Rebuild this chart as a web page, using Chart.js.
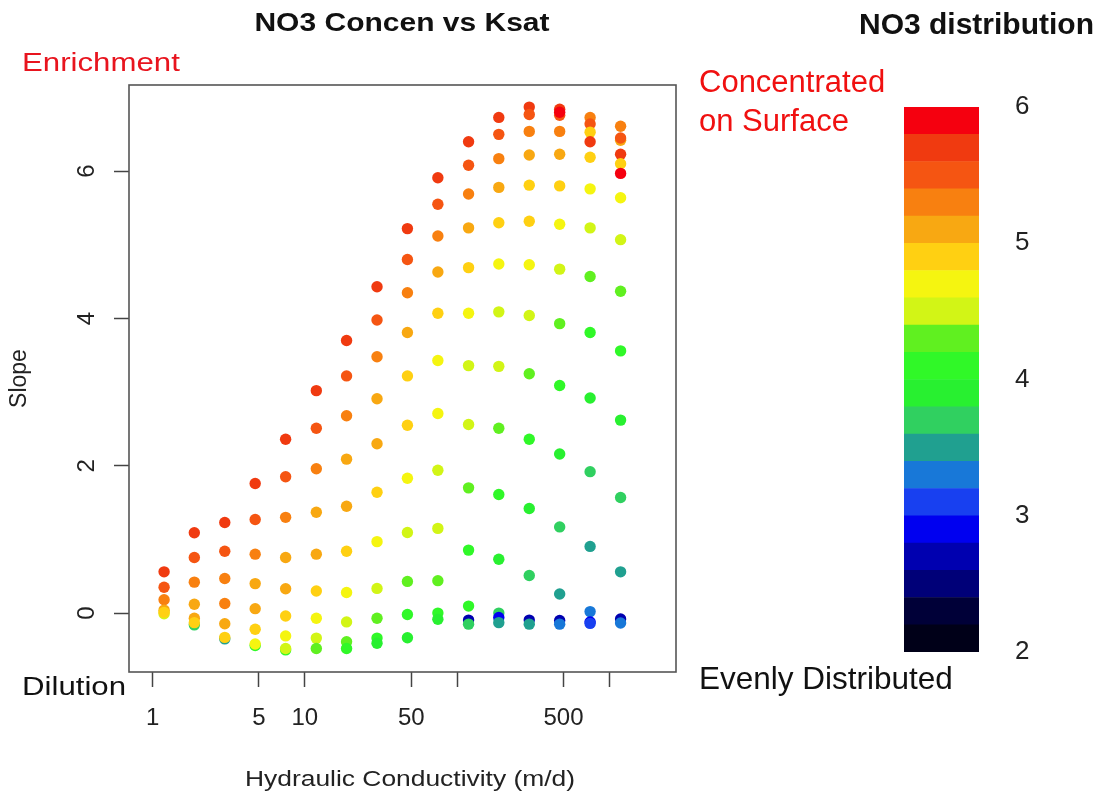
<!DOCTYPE html>
<html><head><meta charset="utf-8">
<script src="https://cdn.jsdelivr.net/npm/chart.js@4"></script>
<style>
html,body{margin:0;padding:0;background:#fff;}
#wrap{position:relative;width:1106px;height:797px;overflow:hidden;}
#main{position:absolute;left:0;top:0;}
#bar{position:absolute;left:880px;top:0;}
</style></head><body>
<div id="wrap"><canvas id="main" width="1106" height="797"></canvas><canvas id="bar" width="226" height="797"></canvas></div>
<script>
// ---- data ----
const ksat = [1.19, 1.88, 2.98, 4.72, 7.48, 11.9, 18.8, 29.8, 47.2, 74.8, 119, 188, 298, 472, 748, 1186];
const slopeCols = [
  [-0.01, 0.56, 0.35, 0.18, 0.04, 0.01],
  [-0.16, 1.09, 0.755, 0.42, 0.12, -0.07, -0.13],
  [-0.35, 1.23, 0.84, 0.47, 0.13, -0.145, -0.33],
  [-0.44, 1.76, 1.27, 0.80, 0.40, 0.06, -0.22, -0.42],
  [-0.50, 2.36, 1.85, 1.30, 0.755, 0.33, -0.04, -0.31, -0.48],
  [3.02, 2.51, 1.96, 1.37, 0.80, 0.30, -0.07, -0.34, -0.48],
  [3.70, 3.22, 2.68, 2.09, 1.45, 0.84, 0.28, -0.12, -0.39, -0.48],
  [4.43, 3.98, 3.48, 2.91, 2.30, 1.64, 0.97, 0.335, -0.07, -0.34, -0.41],
  [5.22, 4.80, 4.35, 3.81, 3.22, 2.55, 1.83, 1.095, 0.43, -0.02, -0.335],
  [5.91, 5.55, 5.12, 4.63, 4.07, 3.43, 2.71, 1.94, 1.15, 0.44, 0.0, -0.085],
  [-0.095, 6.40, 6.08, 5.69, 5.23, 4.69, 4.07, 3.36, 2.56, 1.70, 0.855, 0.095, -0.15],
  [6.73, 6.50, 6.17, 5.78, 5.30, 4.74, 4.09, 3.35, 2.51, 1.61, 0.73, 0.0, -0.06, -0.13],
  [6.87, 6.77, 6.54, 6.22, 5.81, 5.32, 4.73, 4.04, 3.25, 2.36, 1.42, 0.51, -0.095, -0.15],
  [6.84, 6.76, 6.80, 6.54, 6.23, 5.80, 5.28, 4.67, 3.93, 3.09, 2.16, 1.17, 0.26, -0.10, -0.15],
  [6.73, 6.64, 6.53, 6.40, 6.19, 5.76, 5.23, 4.57, 3.81, 2.92, 1.92, 0.905, 0.02, -0.12, -0.14],
  [6.61, 6.42, 6.45, 6.23, 6.10, 5.97, 5.64, 5.07, 4.37, 3.56, 2.62, 1.57, 0.56, -0.08, -0.135]
];
const no3Cols = [
  [4.5, 5.7, 5.5, 5.3, 5.1, 4.9],
  [3.6, 5.7, 5.5, 5.3, 5.1, 5.0, 4.85],
  [3.5, 5.7, 5.5, 5.3, 5.2, 5.05, 4.8],
  [4.1, 5.7, 5.5, 5.3, 5.1, 5.0, 4.85, 4.75],
  [4.1, 5.7, 5.5, 5.3, 5.1, 5.0, 4.85, 4.75, 4.5],
  [5.7, 5.5, 5.3, 5.1, 5.0, 4.8, 4.7, 4.5, 4.2],
  [5.7, 5.5, 5.3, 5.1, 5.0, 4.85, 4.7, 4.5, 4.2, 4.1],
  [5.7, 5.5, 5.3, 5.1, 5.0, 4.85, 4.7, 4.5, 4.3, 4.1, 3.9],
  [5.7, 5.5, 5.3, 5.1, 4.95, 4.9, 4.7, 4.5, 4.3, 4.1, 3.8],
  [5.7, 5.5, 5.3, 5.1, 4.9, 4.75, 4.7, 4.5, 4.45, 4.3, 4.1, 3.8],
  [2.7, 5.7, 5.5, 5.3, 5.1, 4.9, 4.75, 4.5, 4.45, 4.3, 4.1, 4.0, 3.7],
  [5.7, 5.5, 5.3, 5.1, 4.9, 4.75, 4.55, 4.45, 4.2, 4.1, 3.95, 3.7, 2.8, 3.5],
  [5.7, 5.5, 5.3, 5.1, 4.95, 4.8, 4.7, 4.5, 4.2, 4.05, 3.9, 3.7, 2.7, 3.5],
  [5.6, 5.4, 5.85, 5.3, 5.1, 4.85, 4.75, 4.5, 4.2, 4.05, 3.9, 3.7, 3.5, 2.7, 3.3],
  [5.3, 5.5, 4.95, 5.7, 4.8, 4.75, 4.5, 4.2, 4.05, 3.9, 3.7, 3.5, 3.3, 2.9, 3.1],
  [5.3, 5.0, 5.5, 5.6, 4.85, 5.9, 4.75, 4.55, 4.3, 4.1, 3.95, 3.7, 3.5, 2.7, 3.3]
];
const xTickValues = [1, 5, 10, 50, 100, 500, 1000];
const xTickLabels = ['1', '5', '10', '50', '', '500', ''];
const yTickValues = [0, 2, 4, 6];
const legendTickValues = [2, 3, 4, 5, 6];
const paletteBreaks = [2.0, 2.2, 2.4, 2.6, 2.8, 3.0, 3.2, 3.4, 3.6, 3.8, 4.0, 4.2, 4.4, 4.6, 4.8, 5.0, 5.2, 5.4, 5.6, 5.8, 6.0];
const paletteColors = ['#000018', '#000038', '#000078', '#0000b0', '#0000f0', '#1840f0', '#1878d8', '#20a090', '#30d060', '#28f030',
                       '#30f828', '#60f020', '#d2f516', '#f5f510', '#ffd012', '#f8a812', '#f88010', '#f55512', '#f03a10', '#f5000f'];

function colorFor(z) {
  for (let i = 0; i < paletteColors.length; i++) {
    if (z >= paletteBreaks[i] && z < paletteBreaks[i + 1]) return paletteColors[i];
  }
  return z < paletteBreaks[0] ? paletteColors[0] : paletteColors[paletteColors.length - 1];
}

const points = [], pointColors = [];
ksat.forEach((k, c) => {
  slopeCols[c].forEach((s, r) => {
    points.push({ x: k, y: s });
    pointColors.push(colorFor(no3Cols[c][r]));
  });
});

function stretchText(ctx, text, x, y, font, color, align, sx) {
  ctx.save();
  ctx.font = font;
  ctx.fillStyle = color;
  ctx.textAlign = align;
  ctx.textBaseline = 'alphabetic';
  ctx.translate(x, y);
  ctx.scale(sx, 1);
  ctx.fillText(text, 0, 0);
  ctx.restore();
}

const decorPlugin = {
  id: 'decor',
  afterDraw(chart) {
    const ctx = chart.ctx, a = chart.chartArea;
    ctx.save();
    ctx.strokeStyle = '#555';
    ctx.lineWidth = 1.6;
    ctx.strokeRect(a.left, a.top, a.right - a.left, a.bottom - a.top);
    ctx.restore();
    // rotated y tick labels (R style)
    const ys = chart.scales.y;
    ctx.save();
    ctx.font = '24px "Liberation Sans", Arial, sans-serif';
    ctx.fillStyle = '#222';
    ctx.textAlign = 'center';
    ctx.textBaseline = 'middle';
    ys.ticks.forEach(t => {
      const py = ys.getPixelForValue(t.value);
      ctx.save();
      ctx.translate(87, py);
      ctx.rotate(-Math.PI / 2);
      ctx.fillText(String(t.value), 0, 0);
      ctx.restore();
    });
    ctx.restore();
    const L = '"Liberation Sans", Arial, sans-serif';
    stretchText(ctx, 'NO3 Concen vs Ksat', 402, 31, 'bold 25px ' + L, '#111', 'center', 1.2);
    stretchText(ctx, 'Enrichment', 22, 71, '26px ' + L, '#e8141e', 'left', 1.2);
    stretchText(ctx, 'Dilution', 22, 695, '26px ' + L, '#111', 'left', 1.2);
    stretchText(ctx, 'Hydraulic Conductivity (m/d)', 410, 786, '22px ' + L, '#222', 'center', 1.2);
    stretchText(ctx, 'Concentrated', 699, 92, '31px ' + L, '#f01010', 'left', 1);
    stretchText(ctx, 'on Surface', 699, 131, '31px ' + L, '#f01010', 'left', 1);
    stretchText(ctx, 'Evenly Distributed', 699, 689, '31.5px ' + L, '#111', 'left', 1);
    stretchText(ctx, 'NO3 distribution', 859, 34, 'bold 30px ' + L, '#111', 'left', 1);
  }
};

new Chart(document.getElementById('main'), {
  type: 'scatter',
  data: { datasets: [{ data: points, backgroundColor: pointColors, borderWidth: 0, pointRadius: 5.7, pointHoverRadius: 5.7 }] },
  options: {
    responsive: false, animation: false, devicePixelRatio: 1,
    layout: { padding: { left: 0, top: 85, right: 430, bottom: 0 } },
    plugins: { legend: { display: false }, tooltip: { enabled: false } },
    scales: {
      x: {
        type: 'logarithmic', min: 0.729, max: 2742,
        afterFit(s) { s.height = 125; },
        afterBuildTicks(s) { s.ticks = xTickValues.map(v => ({ value: v })); },
        grid: { drawOnChartArea: false, drawTicks: true, tickLength: 15, color: '#444', tickWidth: 1.5 },
        border: { display: false },
        ticks: {
          autoSkip: false, maxRotation: 0, minRotation: 0, padding: 17, color: '#222',
          font: { family: '"Liberation Sans", Arial, sans-serif', size: 24 },
          callback: (v, i) => xTickLabels[i]
        }
      },
      y: {
        min: -0.80, max: 7.17,
        afterFit(s) { s.width = 129; },
        afterBuildTicks(s) { s.ticks = yTickValues.map(v => ({ value: v })); },
        grid: { drawOnChartArea: false, drawTicks: true, tickLength: 15, color: '#444', tickWidth: 1.5 },
        border: { display: false },
        ticks: { display: false },
        title: { display: true, text: 'Slope', color: '#222', padding: { top: 6, bottom: 0 },
                 font: { family: '"Liberation Sans", Arial, sans-serif', size: 23 } }
      }
    }
  },
  plugins: [decorPlugin]
});

new Chart(document.getElementById('bar'), {
  type: 'bar',
  data: {
    labels: [''],
    datasets: paletteColors.map((c, i) => ({
      data: [[paletteBreaks[i], paletteBreaks[i + 1]]],
      backgroundColor: c, borderWidth: 0, barPercentage: 1, categoryPercentage: 1, grouped: false
    }))
  },
  options: {
    responsive: false, animation: false, devicePixelRatio: 1,
    layout: { padding: { left: 24, top: 107, right: 0, bottom: 145 } },
    plugins: { legend: { display: false }, tooltip: { enabled: false } },
    scales: {
      x: { display: false },
      y: {
        position: 'right', min: 2, max: 6,
        afterFit(s) { s.width = 127; },
        afterBuildTicks(s) { s.ticks = legendTickValues.map(v => ({ value: v })); },
        grid: { display: false }, border: { display: false },
        ticks: { padding: 28, color: '#222', font: { family: '"Liberation Sans", Arial, sans-serif', size: 26 } }
      }
    }
  }
});
</script>
</body></html>
